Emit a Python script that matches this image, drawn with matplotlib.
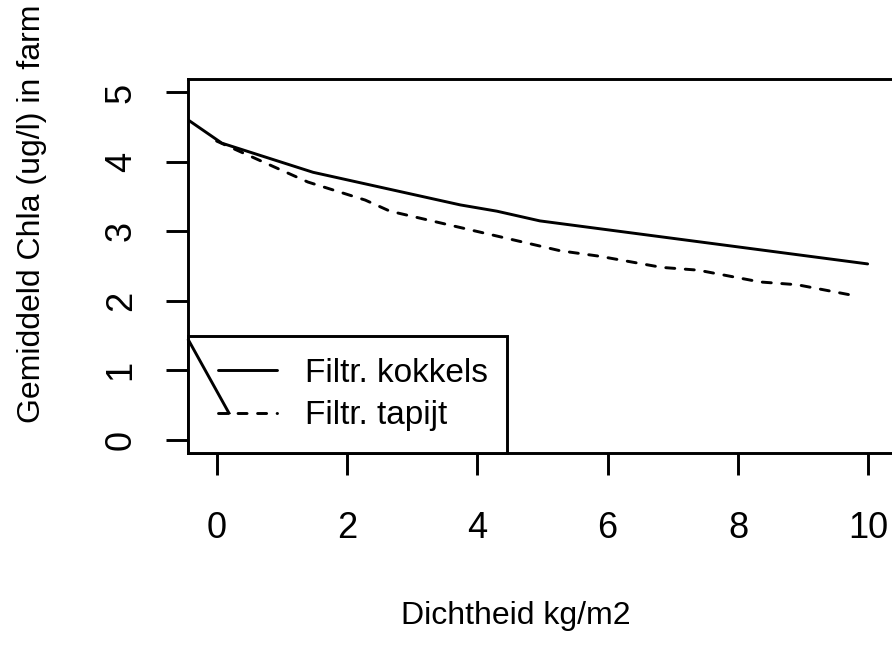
import matplotlib
matplotlib.use("Agg")
import matplotlib.pyplot as plt
from matplotlib.legend_handler import HandlerLine2D

plt.rcParams['font.family'] = ['Liberation Sans', 'DejaVu Sans']

dens_kokkels = [-0.43, 0.08, 1.48, 3.74, 4.30, 4.96, 9.99]
chla_kokkels = [4.60, 4.27, 3.85, 3.38, 3.29, 3.15, 2.53]

dens_tapijt = [0.00, 1.40, 2.28, 2.66, 5.27, 5.88, 6.83, 7.39, 8.34, 8.91, 9.80]
chla_tapijt = [4.30, 3.71, 3.45, 3.29, 2.72, 2.64, 2.48, 2.44, 2.27, 2.23, 2.07]

# stray segment drawn over the legend
diag_x = [-0.43, 0.19]
diag_y = [1.43, 0.38]

labels = ["Filtr. kokkels", "Filtr. tapijt"]
xticks = [0, 2, 4, 6, 8, 10]
yticks = [0, 1, 2, 3, 4, 5]

fs = 23
tick_fs = 26
leg_fs = 24
lw = 2.1

fig = plt.figure(figsize=(8.92, 6.45), dpi=100)
ax = fig.add_axes([188.4 / 892, 1 - 453.4 / 645, 1 - 188.4 / 892, (453.4 - 78.6) / 645])

ax.plot(dens_kokkels, chla_kokkels, color='black', lw=lw, ls='-', label=labels[0],
        solid_capstyle='round')
ax.plot(dens_tapijt, chla_tapijt, color='black', lw=lw, ls=(0, (3.1, 3.6)), label=labels[1],
        dash_capstyle='round')

ax.set_xlim(-0.433, (892 - 216.7) / 65.16)
ax.set_ylim(-0.2, 5.2)
ax.set_xticks(xticks)
ax.set_yticks(yticks)
ax.set_xticklabels([str(t) for t in xticks], fontsize=tick_fs)
ax.set_yticklabels([str(t) for t in yticks], fontsize=tick_fs, rotation=90, va='center')

ax.spines['right'].set_visible(False)
for s in ['left', 'bottom', 'top']:
    ax.spines[s].set_linewidth(lw)
ax.tick_params(axis='both', length=15.8, width=lw, direction='out', color='black')
ax.tick_params(axis='x', pad=26)
ax.tick_params(axis='y', pad=20)

ax.set_xlabel("Dichtheid kg/m2", fontsize=fs)
ax.xaxis.set_label_coords((516 - 188.4) / 703.6, (453.4 - 601) / 374.8)
ax.set_ylabel("Gemiddeld Chla (ug/l) in farm", fontsize=fs, ha='left')
ax.yaxis.set_label_coords((47 - 188.4) / 703.6, (453.4 - 423) / 374.8)

hmap = {l: HandlerLine2D(xpad=0.24) for l in ax.get_lines()}
leg = ax.legend(loc='lower left', bbox_to_anchor=(0, 0, 319 / 703.6, 0.3), mode='expand',
                borderaxespad=0, fancybox=False, framealpha=1, edgecolor='black',
                fontsize=leg_fs, handlelength=2.01, handletextpad=0.84, borderpad=0.66,
                labelspacing=0.35, handler_map=hmap)
leg.get_frame().set_linewidth(lw)

ax.plot(diag_x, diag_y, color='black', lw=lw, zorder=6, clip_on=False)

fig.savefig("out.png", dpi=100)
